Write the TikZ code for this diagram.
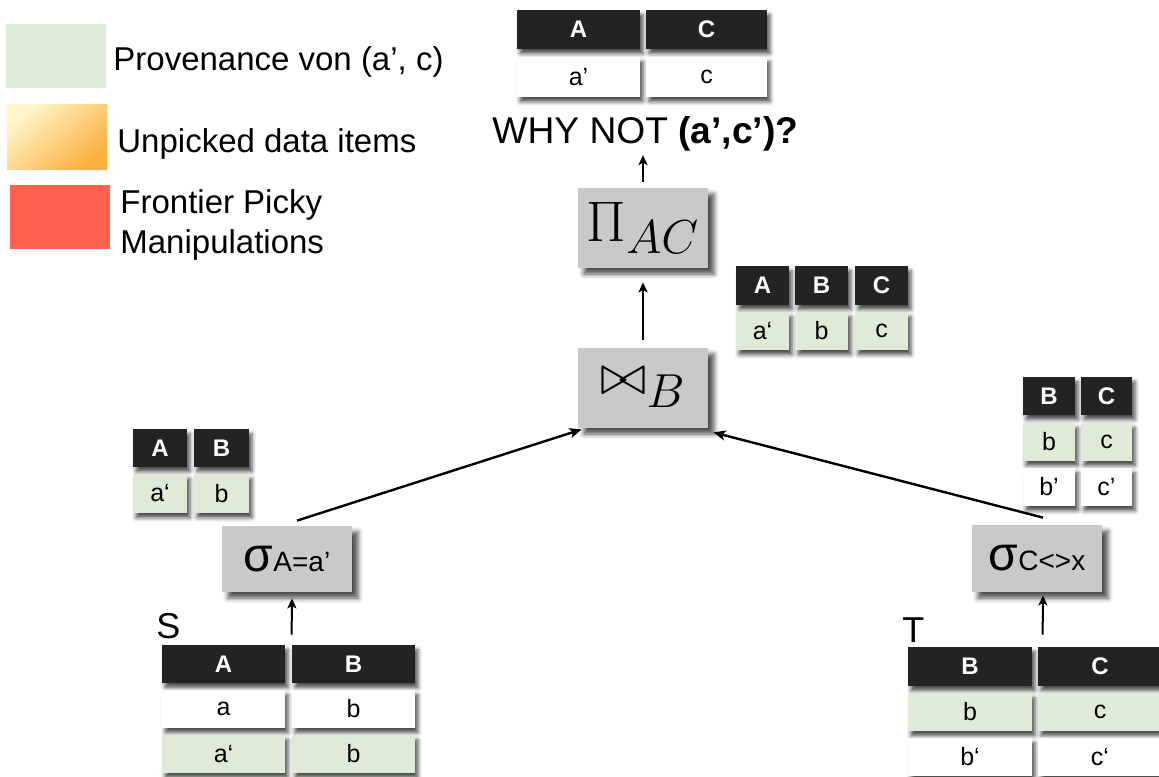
\documentclass[tikz,border=0pt]{standalone}
\usepackage{graphicx}
\usepackage{fontspec}
\setmainfont{Liberation Sans}
\usetikzlibrary{arrows.meta,shadows.blur}
\definecolor{hdrgray}{HTML}{232323}
\definecolor{opgray}{HTML}{C9C9C9}
\definecolor{provgreen}{HTML}{DFEBD6}
\definecolor{frontred}{HTML}{FF6350}
\definecolor{unpickA}{HTML}{FFF6CC}
\definecolor{unpickB}{HTML}{FBB040}
\newcommand\fs[1]{\fontsize{#1}{#1}\selectfont}
\tikzset{
  cellshadow/.style={blur shadow={shadow xshift=1.5pt,shadow yshift=-2.4pt,shadow blur radius=2pt,shadow opacity=70}},
  boxshadow/.style={blur shadow={shadow xshift=3pt,shadow yshift=-3pt,shadow blur radius=2.5pt,shadow opacity=70}},
  hdr/.style={fill=hdrgray,text=white,font=\bfseries\fs{12},inner sep=0pt,cellshadow},
  cellw/.style={fill=white,text=black,font=\fs{12.5},inner sep=0pt,cellshadow},
  cellg/.style={fill=provgreen,text=black,font=\fs{12.5},inner sep=0pt,cellshadow},
  opbox/.style={fill=opgray,inner sep=0pt,boxshadow},
  legbox/.style={inner sep=0pt},
  legtext/.style={font=\fs{16.5},inner sep=0pt,anchor=base west},
  rellabel/.style={font=\fs{18},inner sep=0pt,anchor=base west},
  arr/.style={-{Stealth[length=5pt,width=4.5pt,inset=1.2pt]},line width=1pt},
  arrd/.style={-{Stealth[length=6pt,width=5pt,inset=1.4pt]},line width=1.2pt},
}
% style, name, x1, y1, x2, y2, text
\newcommand\cellnode[7]{\node[#1,minimum width={(#5-#3)*0.5pt},minimum height={(#6-#4)*0.5pt}] (#2) at ({(#3+#5)/2},{(#4+#6)/2}) {#7};}
\newcommand\bigmath[1]{\scalebox{1.15}{\fs{24.88}$#1$}}
\newcommand\selop[1]{{\fs{24}σ}{\fs{14}#1}}
\begin{document}
\begin{tikzpicture}[x=0.5pt,y=-0.5pt]
\clip (0,0) rectangle (1159,776);
% legend
\cellnode{legbox,fill=provgreen}{lg}{6}{24}{106}{88}{}
\cellnode{legbox,top color=unpickA,bottom color=unpickB,shading angle=40}{lo}{7}{104}{107}{169}{}
\cellnode{legbox,fill=frontred}{lr}{10}{185}{110}{249}{}
\node[legtext] (tg) at (113,70) {Provenance von (a’, c)};
\node[legtext] (to) at (117,152) {Unpicked data items};
\node[legtext] (tr1) at (120,213) {Frontier Picky};
\node[legtext] (tr2) at (120,253) {Manipulations};
% top result table
\cellnode{hdr}{hA1}{517}{10}{640}{49}{A}
\cellnode{hdr}{hC1}{646}{10}{767}{49}{C}
\cellnode{cellw}{dA1}{517}{57}{640}{97}{a’}
\cellnode{cellw}{dC1}{646}{57}{767}{97}{c}
\node[anchor=base west,inner sep=2pt,font=\fs{18.6}] (why) at (488,143) {WHY NOT \textbf{(a’,c’)?}};
% operators
\cellnode{opbox}{pi}{578}{188}{708}{268}{\bigmath{\Pi_{AC}}}
\cellnode{opbox}{join}{578}{348}{708}{428}{\bigmath{\bowtie_B}}
\cellnode{opbox}{sigL}{222}{526}{352}{592}{\selop{A=a’}}
\cellnode{opbox}{sigR}{972}{525}{1102}{592}{\selop{C<>x}}
% ABC table
\cellnode{hdr}{hA2}{736}{266}{789}{305}{A}
\cellnode{hdr}{hB2}{795}{266}{848}{305}{B}
\cellnode{hdr}{hC2}{855}{266}{908}{305}{C}
\cellnode{cellg}{dA2}{736}{312}{789}{350}{a‘}
\cellnode{cellg}{dB2}{795}{312}{848}{350}{b}
\cellnode{cellg}{dC2}{855}{312}{908}{350}{c}
% left AB table
\cellnode{hdr}{hA3}{133}{429}{187}{467}{A}
\cellnode{hdr}{hB3}{194}{429}{249}{467}{B}
\cellnode{cellg}{dA3}{133}{474}{187}{513}{a‘}
\cellnode{cellg}{dB3}{194}{474}{249}{513}{b}
% right BC table
\cellnode{hdr}{hB4}{1023}{377}{1075}{415}{B}
\cellnode{hdr}{hC4}{1081}{377}{1132}{415}{C}
\cellnode{cellg}{dB4}{1023}{423}{1075}{461}{b}
\cellnode{cellg}{dC4}{1081}{423}{1132}{461}{c}
\cellnode{cellw}{eB4}{1023}{468}{1075}{506}{b’}
\cellnode{cellw}{eC4}{1081}{468}{1132}{506}{c’}
% S table
\node[rellabel] (S) at (156,638) {S};
\cellnode{hdr}{hA5}{162}{645}{285}{683}{A}
\cellnode{hdr}{hB5}{292}{645}{415}{683}{B}
\cellnode{cellw}{dA5}{162}{690}{285}{728}{a}
\cellnode{cellw}{dB5}{292}{690}{415}{728}{b}
\cellnode{cellg}{eA5}{162}{735}{285}{773}{a‘}
\cellnode{cellg}{eB5}{292}{735}{415}{773}{b}
% T table
\node[rellabel] (T) at (902,642) {T};
\cellnode{hdr}{hB6}{908}{647}{1032}{686}{B}
\cellnode{hdr}{hC6}{1038}{647}{1162}{686}{C}
\cellnode{cellg}{dB6}{908}{693}{1032}{731}{b}
\cellnode{cellg}{dC6}{1038}{693}{1162}{731}{c}
\cellnode{cellw}{eB6}{908}{738}{1032}{776}{b‘}
\cellnode{cellw}{eC6}{1038}{738}{1162}{776}{c‘}
% connectors
\draw[arr] ([yshift=3pt]pi.north) -- (why.south -| pi.north);
\draw[arr] ([yshift=4pt]join.north) -- ([yshift=-7pt]pi.south);
\draw[arrd] ([shift={(5pt,2.5pt)}]sigL.north) -- ([shift={(2pt,-0.5pt)}]join.south west);
\draw[arrd] ([shift={(3pt,3.5pt)}]sigR.north) -- ([shift={(2.5pt,-2pt)}]join.south east);
\draw[arr] ([yshift=5pt]hB5.north west) -- ([shift={(2.5pt,-3pt)}]sigL.south);
\draw[arr] ([shift={(2.5pt,6pt)}]hC6.north west) -- ([shift={(3pt,-1.5pt)}]sigR.south);
\end{tikzpicture}
\end{document}
